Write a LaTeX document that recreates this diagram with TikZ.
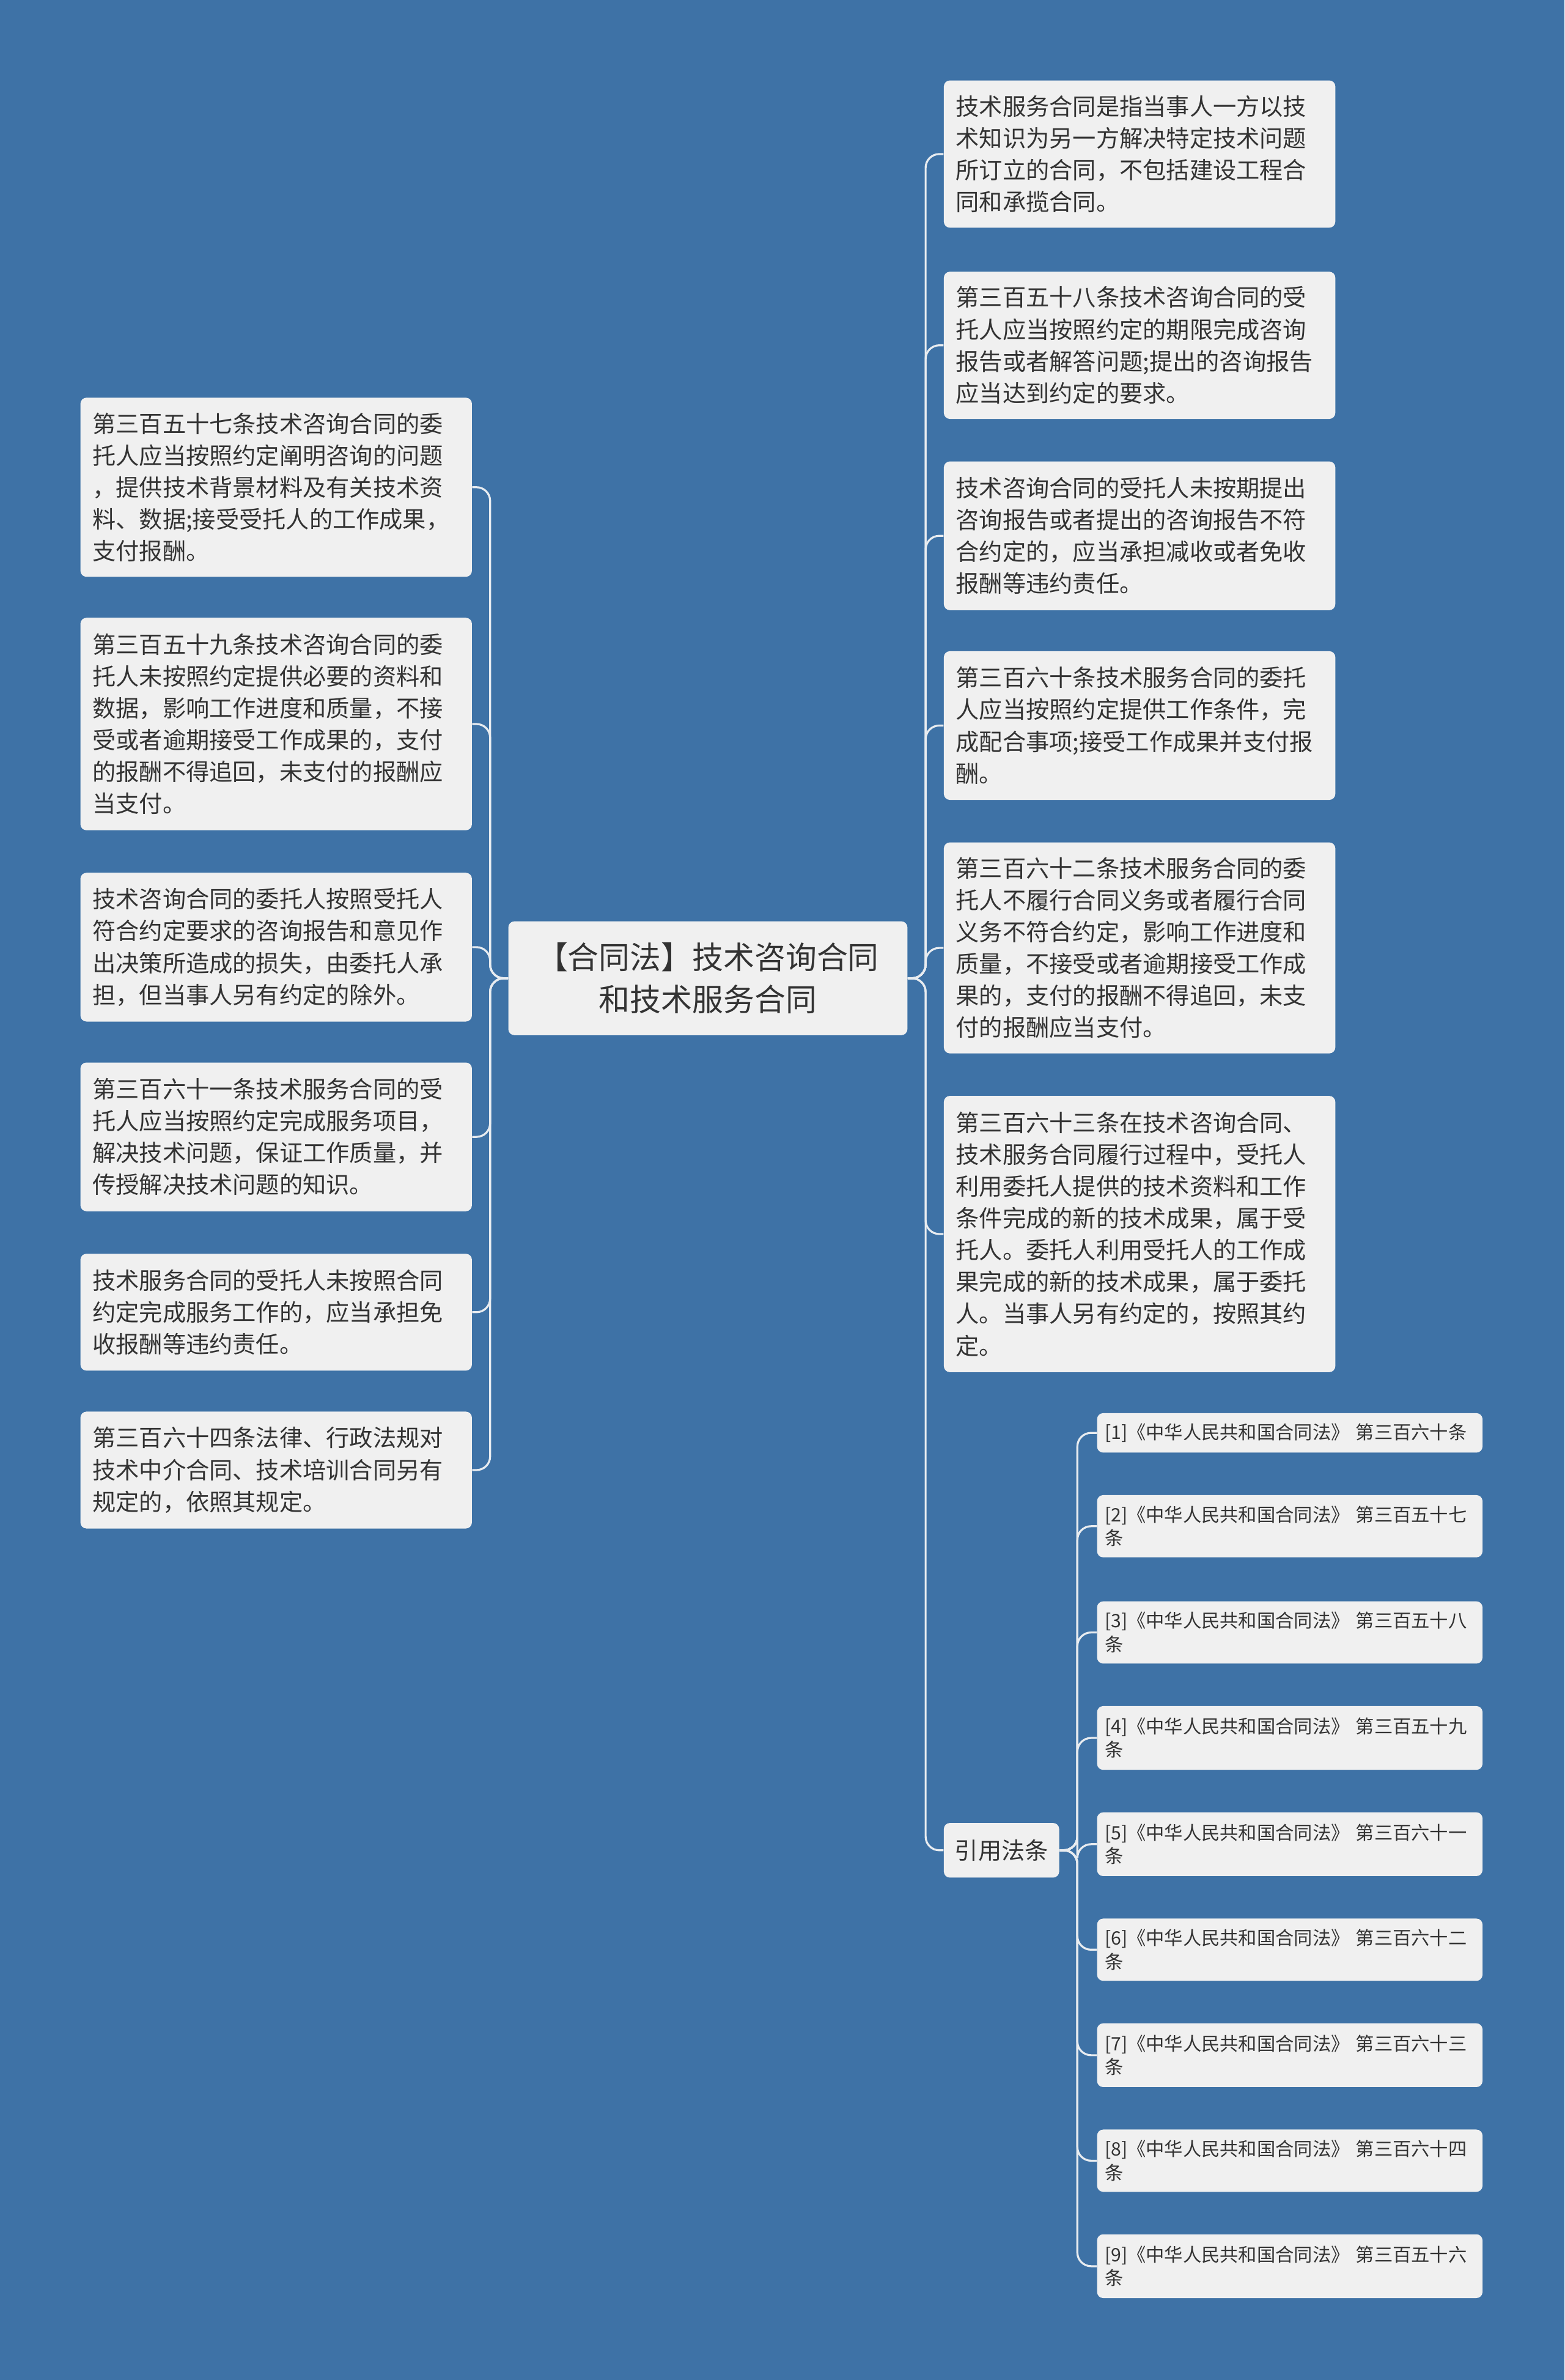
\documentclass[tikz,border=0pt]{standalone}
\usepackage{fontspec}
\setmainfont{Noto Sans CJK SC}
\begin{document}
\begin{tikzpicture}[x=1pt,y=-1pt,
  box/.style={fill=nodebg,rounded corners=4pt,text=txt,align=left,inner sep=0pt,minimum width=258pt,text width=242pt,font=\fontsize{15.4}{21}\selectfont},
  refbox/.style={fill=nodebg,rounded corners=4pt,text=txt,align=left,inner sep=0pt,minimum width=254pt,text width=244pt,font=\fontsize{12.2}{15.5}\selectfont},
  link/.style={draw=linec,line width=1.3pt,rounded corners=9pt}]
\definecolor{bg}{HTML}{3E72A6}
\definecolor{nodebg}{HTML}{F0F0F0}
\definecolor{txt}{HTML}{333333}
\definecolor{linec}{HTML}{E8ECF0}
\fill[bg] (0,0) rectangle (1031,1568);
\useasboundingbox (0,0) rectangle (1031,1568);
\node[fill=nodebg,rounded corners=4pt,text=txt,align=center,minimum width=263pt,minimum height=75pt,inner sep=0pt,font=\fontsize{20.5}{28}\selectfont] (c) at (466.5,644.5) {【合同法】技术咨询合同\\和技术服务合同};
% left
\node[box,minimum height=118pt] (L1) at (182,321) {第三百五十七条技术咨询合同的委\\托人应当按照约定阐明咨询的问题\\，提供技术背景材料及有关技术资\\料、数据;接受受托人的工作成果，\\支付报酬。};
\node[box,minimum height=140pt] (L2) at (182,477) {第三百五十九条技术咨询合同的委\\托人未按照约定提供必要的资料和\\数据，影响工作进度和质量，不接\\受或者逾期接受工作成果的，支付\\的报酬不得追回，未支付的报酬应\\当支付。};
\node[box,minimum height=98pt] (L3) at (182,624) {技术咨询合同的委托人按照受托人\\符合约定要求的咨询报告和意见作\\出决策所造成的损失，由委托人承\\担，但当事人另有约定的除外。};
\node[box,minimum height=98pt] (L4) at (182,749) {第三百六十一条技术服务合同的受\\托人应当按照约定完成服务项目，\\解决技术问题，保证工作质量，并\\传授解决技术问题的知识。};
\node[box,minimum height=77pt] (L5) at (182,864.5) {技术服务合同的受托人未按照合同\\约定完成服务工作的，应当承担免\\收报酬等违约责任。};
\node[box,minimum height=77pt] (L6) at (182,968.5) {第三百六十四条法律、行政法规对\\技术中介合同、技术培训合同另有\\规定的，依照其规定。};
% right
\node[box,minimum height=97pt] (R1) at (751,101.5) {技术服务合同是指当事人一方以技\\术知识为另一方解决特定技术问题\\所订立的合同，不包括建设工程合\\同和承揽合同。};
\node[box,minimum height=97pt] (R2) at (751,227.5) {第三百五十八条技术咨询合同的受\\托人应当按照约定的期限完成咨询\\报告或者解答问题;提出的咨询报告\\应当达到约定的要求。};
\node[box,minimum height=98pt] (R3) at (751,353) {技术咨询合同的受托人未按期提出\\咨询报告或者提出的咨询报告不符\\合约定的，应当承担减收或者免收\\报酬等违约责任。};
\node[box,minimum height=98pt] (R4) at (751,478) {第三百六十条技术服务合同的委托\\人应当按照约定提供工作条件，完\\成配合事项;接受工作成果并支付报\\酬。};
\node[box,minimum height=139pt] (R5) at (751,624.5) {第三百六十二条技术服务合同的委\\托人不履行合同义务或者履行合同\\义务不符合约定，影响工作进度和\\质量，不接受或者逾期接受工作成\\果的，支付的报酬不得追回，未支\\付的报酬应当支付。};
\node[box,minimum height=182pt] (R6) at (751,813) {第三百六十三条在技术咨询合同、\\技术服务合同履行过程中，受托人\\利用委托人提供的技术资料和工作\\条件完成的新的技术成果，属于受\\托人。委托人利用受托人的工作成\\果完成的新的技术成果，属于委托\\人。当事人另有约定的，按照其约\\定。};
\node[fill=nodebg,rounded corners=4pt,text=txt,minimum width=76pt,minimum height=36pt,inner sep=0pt,font=\fontsize{15.4}{21}\selectfont] (Y) at (660,1219) {引用法条};
% refs
\node[refbox,minimum height=26pt] (F1) at (850,944) {[1]《中华人民共和国合同法》 第三百六十条};
\node[refbox,minimum height=41pt] (F2) at (850,1005.5) {[2]《中华人民共和国合同法》 第三百五十七\\条};
\node[refbox,minimum height=41pt] (F3) at (850,1075.5) {[3]《中华人民共和国合同法》 第三百五十八\\条};
\node[refbox,minimum height=42pt] (F4) at (850,1145) {[4]《中华人民共和国合同法》 第三百五十九\\条};
\node[refbox,minimum height=42pt] (F5) at (850,1215) {[5]《中华人民共和国合同法》 第三百六十一\\条};
\node[refbox,minimum height=41pt] (F6) at (850,1284.5) {[6]《中华人民共和国合同法》 第三百六十二\\条};
\node[refbox,minimum height=42pt] (F7) at (850,1354) {[7]《中华人民共和国合同法》 第三百六十三\\条};
\node[refbox,minimum height=41pt] (F8) at (850,1423.5) {[8]《中华人民共和国合同法》 第三百六十四\\条};
\node[refbox,minimum height=42pt] (F9) at (850,1493) {[9]《中华人民共和国合同法》 第三百五十六\\条};
\coordinate (tl) at (323,644.5);
\coordinate (tr) at (610,644.5);
\coordinate (ty) at (710,1219);
\foreach \n in {L1,L2,L3,L4,L5,L6} \draw[link] (c.west) -- (tl) |- (\n.east);
\foreach \n in {R1,R2,R3,R4,R5,R6,Y} \draw[link] (c.east) -- (tr) |- (\n.west);
\foreach \n in {F1,F2,F3,F4,F5,F6,F7,F8,F9} \draw[link] (Y.east) -- (ty) |- (\n.west);
\end{tikzpicture}
\end{document}
